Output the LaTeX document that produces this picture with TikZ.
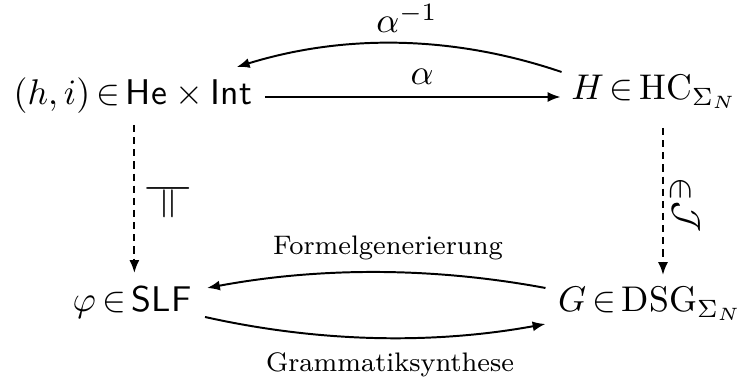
\documentclass[tikz,border=0pt]{standalone}
\usepackage{fontspec}
\usetikzlibrary{arrows.meta,calc}
\thickmuskip=3mu plus 2mu
\tikzset{
  obj/.style={inner sep=0pt, anchor=base west, font=\fontsize{10}{12}\selectfont},
  objr/.style={obj, anchor=base east},
  arr/.style={line width=0.55pt, -{Latex[length=3.6pt,width=2.8pt]}},
  darr/.style={arr, dash pattern=on 2pt off 1.4pt},
  lab/.style={inner sep=0pt, anchor=base, font=\fontsize{7.5}{9}\selectfont},
  mlab/.style={inner sep=0pt, anchor=base, font=\fontsize{10}{12}\selectfont},
  rlab/.style={inner sep=0pt, rotate=-90, font=\fontsize{10}{12}\selectfont},
}
\begin{document}
\begin{tikzpicture}[x=0.28pt,y=-0.28pt]
\useasboundingbox (0,0) rectangle (746,378);
\node[obj] (L) at (13,105) {$(h,i)\in\mathsf{He}\times\mathsf{Int}$};
\node[objr] (R) at (738,100) {$H\in\mathrm{HC}_{\Sigma_N}$};
\node[obj] (BL) at (72,312) {$\varphi\in\mathsf{SLF}$};
\node[objr] (BR) at (743,312) {$G\in\mathrm{DSG}_{\Sigma_N}$};

% alpha
\coordinate (a1) at ($(L.base east)+(12,-8)$);
\coordinate (a2) at ($(R.base west)+(-10,-3)$);
\draw[arr] (a1) -- (a2);
\node[mlab] (la) at (422,85) {$\alpha$};

% alpha^{-1}
\coordinate (b1) at ($(R.base west)+(-9,-28)$);
\coordinate (b2) at ($(L.base east)+(-16,-38)$);
\draw[arr] (b1) .. controls ($(b1)!0.333!(b2)+(0,-35)$) and ($(b1)!0.667!(b2)+(0,-35)$) .. (b2);
\node[mlab] (lb) at (407,33) {$\alpha^{-1}$};

% Formelgenerierung
\coordinate (c1) at ($(BR.base west)+(-12,-24)$);
\coordinate (c2) at ($(BL.base east)+(15,-24)$);
\draw[arr] (c1) .. controls ($(c1)!0.333!(c2)+(0,-21)$) and ($(c1)!0.667!(c2)+(0,-21)$) .. (c2);
\node[lab] (lc) at (388,255) {Formelgenerierung};

% Grammatiksynthese
\coordinate (d1) at ($(BL.base east)+(13,5)$);
\coordinate (d2) at ($(BR.base west)+(-12,12)$);
\draw[arr] (d1) .. controls ($(d1)!0.333!(d2)+(0,23)$) and ($(d1)!0.667!(d2)+(0,23)$) .. (d2);
\node[lab] (ld) at (390,372) {Grammatiksynthese};

% dashed verticals
\coordinate (e1) at ($(L.base)+(1.5,20)$);
\coordinate (e2) at ($(BL.base)+(1,-39)$);
\draw[darr] (e1) -- (e1 |- e2);
\node[rlab] (le) at (168,201) {\fontsize{13}{14}\selectfont$\models$};

\coordinate (f1) at ($(R.base east)+(-75,28)$);
\coordinate (f2) at ($(BR.base east)+(-80,-37)$);
\draw[darr] (f1) -- (f1 |- f2);
\node[rlab] (lf) at (685,205) {$\lower1.2pt\hbox{$\in$}\mathcal{J}$};
\end{tikzpicture}
\end{document}
